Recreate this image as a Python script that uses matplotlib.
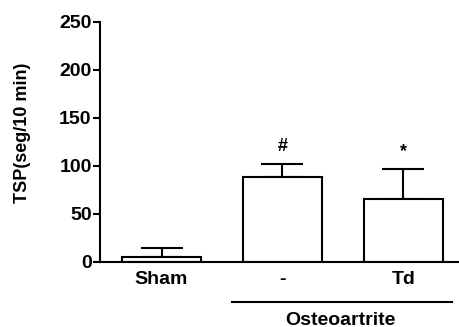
import numpy as np
import matplotlib.pyplot as plt

plt.rcParams['font.family'] = ['Liberation Sans', 'DejaVu Sans']
plt.rcParams['font.weight'] = 'bold'

groups = ["Sham", "-", "Td"]
means = [5.5, 88, 66]
sem = [9, 14.5, 31]
marks = ["", "#", "*"]

fig = plt.figure(figsize=(4.59, 3.27), dpi=100, facecolor='w')
ax = fig.add_axes([0.218, 0.199, 0.782, 0.734])

x = np.arange(len(groups))
ax.bar(x, means, width=0.66, color='white', edgecolor='black', linewidth=1.5, zorder=2)
ax.errorbar(x, means, yerr=[np.zeros(len(sem)), sem], fmt='none', ecolor='black',
            elinewidth=1.5, capsize=15, capthick=1.5, zorder=1)

for xi, m, s, t in zip(x, means, sem, marks):
    if t:
        ax.text(xi, m + s + 9, t, ha='center', va='bottom', fontsize=13, fontweight='bold')

ax.set_xlim(-0.508, 2.459)
ax.set_ylim(0, 250)
ax.set_yticks([0, 50, 100, 150, 200, 250])
ax.set_xticks(x)
ax.set_xticklabels(groups, fontsize=14, fontweight='bold')
ax.tick_params(axis='x', length=0, pad=6.5)
ax.tick_params(axis='y', length=5, width=1.5, pad=1, labelsize=14)
for lab in ax.get_yticklabels():
    lab.set_fontweight('bold')

ax.spines['top'].set_visible(False)
ax.spines['right'].set_visible(False)
ax.spines['left'].set_linewidth(1.5)
ax.spines['bottom'].set_linewidth(1.5)

ax.set_ylabel("TSP(seg/10 min)", fontsize=13, fontweight='bold', va='center')
ax.yaxis.set_label_coords(-0.216, 0.54)

# group line under the osteoarthritis bars
ax.plot([0.58, 2.40], [-41.5, -41.5], color='black', lw=1.5, clip_on=False)
ax.text(1.48, -60.5, "Osteoartrite", ha='center', va='center', fontsize=14, fontweight='bold')

fig.savefig("out.png", dpi=100)
